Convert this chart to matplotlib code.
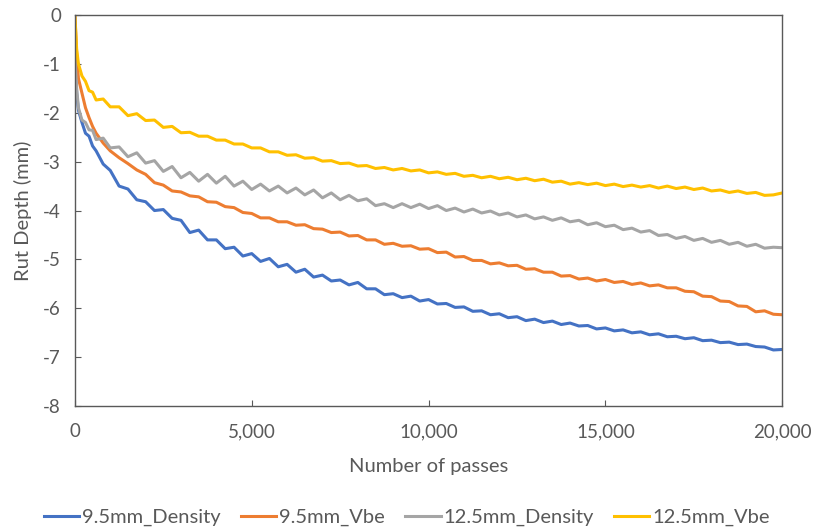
import matplotlib.pyplot as plt

plt.rcParams['font.family'] = ['Lato', 'DejaVu Sans']
plt.rcParams['axes.unicode_minus'] = False

# passes
passes = [0, 50, 100, 200, 300, 400, 500, 600, 800, 1000] + list(range(1250, 20001, 250))

# rut depth (mm)
d95_density = [-0.9, -1.6, -1.95, -2.2, -2.42, -2.48, -2.68, -2.78, -3.05, -3.18,
               -3.5, -3.56, -3.78, -3.82, -4.0, -3.98, -4.16, -4.2, -4.45, -4.4,
               -4.6, -4.6, -4.78, -4.75, -4.93, -4.88, -5.04, -4.98, -5.15, -5.1,
               -5.26, -5.2, -5.36, -5.32, -5.44, -5.42, -5.52, -5.47, -5.6, -5.6,
               -5.72, -5.7, -5.78, -5.75, -5.85, -5.82, -5.91, -5.9, -5.98, -5.97,
               -6.06, -6.05, -6.13, -6.11, -6.19, -6.17, -6.25, -6.22, -6.29, -6.26,
               -6.33, -6.3, -6.36, -6.35, -6.42, -6.4, -6.46, -6.44, -6.5, -6.48,
               -6.54, -6.52, -6.58, -6.57, -6.62, -6.6, -6.66, -6.65, -6.7, -6.69,
               -6.74, -6.73, -6.78, -6.79, -6.85, -6.84]
d95_vbe = [0.0, -0.8, -1.3, -1.6, -1.9, -2.1, -2.28, -2.42, -2.62, -2.78,
           -2.92, -3.04, -3.17, -3.26, -3.43, -3.48, -3.6, -3.62, -3.7, -3.72,
           -3.82, -3.83, -3.92, -3.94, -4.04, -4.06, -4.15, -4.15, -4.23, -4.23,
           -4.3, -4.29, -4.37, -4.38, -4.45, -4.44, -4.52, -4.51, -4.6, -4.6,
           -4.69, -4.67, -4.73, -4.72, -4.79, -4.78, -4.86, -4.85, -4.95, -4.94,
           -5.02, -5.02, -5.09, -5.07, -5.13, -5.12, -5.2, -5.19, -5.26, -5.26,
           -5.34, -5.33, -5.4, -5.38, -5.44, -5.41, -5.47, -5.45, -5.51, -5.48,
           -5.54, -5.52, -5.58, -5.58, -5.65, -5.66, -5.75, -5.76, -5.85, -5.86,
           -5.95, -5.96, -6.07, -6.05, -6.12, -6.13]
d125_density = [-0.9, -1.5, -1.9, -2.15, -2.2, -2.35, -2.36, -2.55, -2.52, -2.72,
                -2.7, -2.9, -2.82, -3.03, -2.98, -3.2, -3.1, -3.33, -3.22, -3.4,
                -3.26, -3.44, -3.3, -3.5, -3.4, -3.57, -3.46, -3.6, -3.5, -3.64,
                -3.54, -3.68, -3.58, -3.74, -3.64, -3.78, -3.69, -3.8, -3.76, -3.9,
                -3.86, -3.94, -3.86, -3.94, -3.87, -3.96, -3.9, -4.0, -3.95, -4.03,
                -3.97, -4.05, -4.01, -4.09, -4.05, -4.13, -4.09, -4.17, -4.13, -4.2,
                -4.15, -4.23, -4.2, -4.29, -4.25, -4.33, -4.3, -4.39, -4.36, -4.44,
                -4.41, -4.51, -4.49, -4.57, -4.53, -4.61, -4.57, -4.65, -4.61, -4.69,
                -4.65, -4.73, -4.69, -4.77, -4.75, -4.76]
d125_vbe = [0.0, -0.7, -1.0, -1.25, -1.36, -1.55, -1.58, -1.74, -1.72, -1.88,
            -1.88, -2.06, -2.02, -2.16, -2.15, -2.3, -2.28, -2.41, -2.4, -2.48,
            -2.48, -2.56, -2.56, -2.64, -2.64, -2.72, -2.72, -2.8, -2.8, -2.87,
            -2.86, -2.93, -2.92, -2.99, -2.98, -3.04, -3.03, -3.09, -3.08, -3.14,
            -3.12, -3.17, -3.14, -3.19, -3.17, -3.23, -3.21, -3.26, -3.24, -3.3,
            -3.28, -3.33, -3.3, -3.35, -3.32, -3.37, -3.34, -3.39, -3.36, -3.42,
            -3.4, -3.46, -3.43, -3.47, -3.44, -3.49, -3.46, -3.51, -3.48, -3.52,
            -3.49, -3.54, -3.5, -3.55, -3.52, -3.57, -3.54, -3.6, -3.58, -3.63,
            -3.6, -3.65, -3.63, -3.69, -3.68, -3.64]

series = {
    '9.5mm_Density': (d95_density, '#4472C4'),
    '9.5mm_Vbe': (d95_vbe, '#ED7D31'),
    '12.5mm_Density': (d125_density, '#A5A5A5'),
    '12.5mm_Vbe': (d125_vbe, '#FFC000'),
}

fig = plt.figure(figsize=(8.14, 5.31), dpi=100)
ax = fig.add_axes([0.092, 0.235, 0.869, 0.737])

for name, (vals, col) in series.items():
    ax.plot(passes, vals, color=col, lw=2.2, label=name)

ax.set_xlim(0, 20000)
ax.set_ylim(-8, 0)
ax.set_xticks(range(0, 20001, 5000))
ax.set_xticklabels([f'{v:,}' for v in range(0, 20001, 5000)])
ax.set_yticks(range(-8, 1))

for s in ax.spines.values():
    s.set_color('#595959')
    s.set_linewidth(1.0)
ax.tick_params(direction='in', length=4, color='#595959', labelcolor='#595959',
               labelsize=13.5)
ax.tick_params(axis='x', pad=12)
ax.tick_params(axis='y', pad=10)

ax.set_xlabel('Number of passes', fontsize=14.5, color='#595959', labelpad=13)
ax.set_ylabel('Rut Depth (mm)', fontsize=14.5, color='#595959', labelpad=8)

fig.legend(loc='center', bbox_to_anchor=(0.5, 0.025), ncol=4, frameon=False,
           fontsize=14.5, handlelength=1.75, handletextpad=0.15, columnspacing=1.0,
           labelcolor='#595959')

fig.savefig('out.png', dpi=100)
